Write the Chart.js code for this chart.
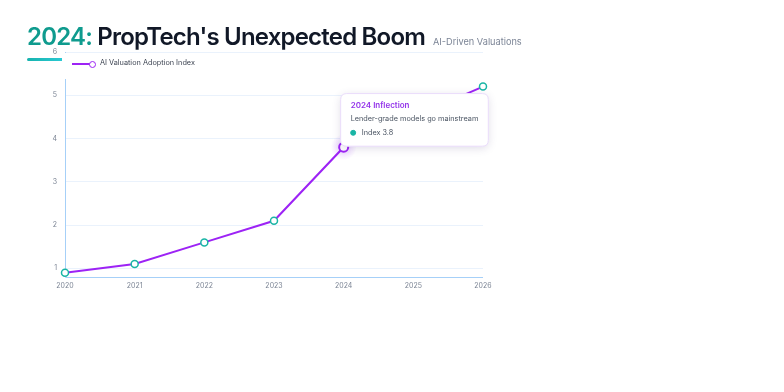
<!DOCTYPE html>
<html>
<head>
<meta charset="utf-8">
<script src="https://cdn.jsdelivr.net/npm/chart.js@4/dist/chart.umd.min.js"></script>
<style>
  html, body { margin: 0; padding: 0; background: #fff; }
  body { width: 784px; height: 392px; position: relative; overflow: hidden; font-family: Inter, "Noto Sans", sans-serif; }
  #chart { position: absolute; left: 0; top: 0; }
  .header { position: absolute; left: 27px; top: 23px; display: flex; align-items: baseline; white-space: nowrap; }
  .header h1 { margin: 0; font-size: 24px; line-height: 1.2; font-weight: 600; color: #111827; letter-spacing: -0.8px; }
  .header h1 span { color: #0f9b8e; }
  .header .sub { margin-left: 8px; font-size: 9.2px; color: #7c8596; }
  .underline { position: absolute; left: 27px; top: 57.5px; width: 38px; height: 3px; border-radius: 2px; background: linear-gradient(90deg, #17b3ae, #2ccbd6); }
  .legend { position: absolute; left: 62px; top: 53px; width: 420px; height: 26px; background: #fff; }
  .legend .mark { position: absolute; left: 10px; top: 6px; width: 24px; height: 10px; }
  .legend .mark::before { content: ""; position: absolute; left: 0; top: 4px; width: 19px; height: 2px; background: #9d23f5; }
  .legend .mark::after { content: ""; position: absolute; left: 17px; top: 1.5px; width: 5px; height: 5px; border: 1.5px solid #9d23f5; border-radius: 50%; background: #fff; }
  .legend .txt { position: absolute; left: 38px; top: 5px; font-size: 7.3px; color: #3f4654; }
</style>
</head>
<body>
<canvas id="chart" width="784" height="392"></canvas>
<div class="header"><h1><span>2024:</span> PropTech's Unexpected Boom</h1><div class="sub">AI-Driven Valuations</div></div>
<div class="underline"></div>
<div class="legend"><div class="mark"></div><div class="txt">AI Valuation Adoption Index</div></div>
<script>
const years = ['2020', '2021', '2022', '2023', '2024', '2025', '2026'];
const adoptionIndex = [0.9, 1.1, 1.6, 2.1, 3.8, 4.5, 5.2];
const yTicks = [1, 2, 3, 4, 5, 6];
const seriesName = 'AI Valuation Adoption Index';
const highlightIndex = 4;
const highlightTitle = '2024 Inflection';
const highlightNote = 'Lender-grade models go mainstream';

const PURPLE = '#9d23f5';
const TEAL = '#19b5a5';
const AXIS = '#a6d0f8';
const GRID = '#eaf2fc';
const TICK = '#7b8494';

Chart.Tooltip.positioners.inflection = function (items) {
  if (!items.length) return false;
  const el = items[0].element;
  return { x: el.x + 3, y: el.y - 1, xAlign: 'left', yAlign: 'bottom' };
};

// axis lines, soft glow behind the highlighted point, shadow under the tooltip box
const extras = {
  id: 'extras',
  beforeDatasetsDraw(chart) {
    const ctx = chart.ctx;
    const { left, right, top, bottom } = chart.chartArea;
    const lx = Math.round(left) + 0.5;
    const by = Math.round(bottom) + 0.5;
    ctx.save();
    ctx.strokeStyle = AXIS;
    ctx.lineWidth = 1;
    ctx.beginPath();
    ctx.moveTo(lx, top);
    ctx.lineTo(lx, by);
    ctx.lineTo(right, by);
    ctx.stroke();
    ctx.restore();

    const pt = chart.getDatasetMeta(0).data[highlightIndex];
    const g = ctx.createRadialGradient(pt.x, pt.y, 2, pt.x, pt.y, 13);
    g.addColorStop(0, 'rgba(168,85,247,0.28)');
    g.addColorStop(1, 'rgba(168,85,247,0)');
    ctx.save();
    ctx.fillStyle = g;
    ctx.beginPath();
    ctx.arc(pt.x, pt.y, 13, 0, Math.PI * 2);
    ctx.fill();
    ctx.restore();
  },
  beforeTooltipDraw(chart, args) {
    const tt = args.tooltip;
    if (!tt.opacity) return;
    const ctx = chart.ctx;
    ctx.save();
    ctx.shadowColor = 'rgba(80,60,120,0.18)';
    ctx.shadowBlur = 8;
    ctx.shadowOffsetY = 2;
    ctx.fillStyle = '#fff';
    ctx.beginPath();
    ctx.roundRect(tt.x, tt.y, tt.width, tt.height, 6);
    ctx.fill();
    ctx.restore();
  }
};

const chart = new Chart(document.getElementById('chart'), {
  type: 'line',
  data: {
    labels: years,
    datasets: [{
      label: seriesName,
      data: adoptionIndex,
      borderColor: PURPLE,
      borderWidth: 2,
      tension: 0,
      pointRadius: 3.5,
      pointBorderWidth: 1.5,
      pointBorderColor: TEAL,
      pointBackgroundColor: '#fff',
      pointHoverRadius: 4.5,
      pointHoverBorderWidth: 2,
      pointHoverBorderColor: PURPLE,
      pointHoverBackgroundColor: '#fff'
    }]
  },
  options: {
    responsive: false,
    animation: false,
    events: [],
    layout: { padding: { left: 45, top: 52, right: 301, bottom: 95 } },
    plugins: {
      legend: { display: false },
      tooltip: {
        position: 'inflection',
        backgroundColor: '#fff',
        borderColor: '#eadcfb',
        borderWidth: 1,
        cornerRadius: 6,
        caretSize: 0,
        caretPadding: 0,
        padding: { top: 7, bottom: 9, left: 10, right: 10 },
        titleColor: '#9333ea',
        titleFont: { family: 'Inter', size: 8, weight: '600' },
        titleMarginBottom: 4,
        bodyColor: '#4b5563',
        bodyFont: { family: 'Inter', size: 7.3 },
        bodySpacing: 5.5,
        usePointStyle: true,
        boxWidth: 5,
        boxHeight: 5,
        boxPadding: 4,
        callbacks: {
          title: () => highlightTitle,
          beforeBody: () => highlightNote,
          label: ctx => 'Index ' + ctx.parsed.y,
          labelColor: () => ({ borderColor: TEAL, backgroundColor: TEAL }),
          labelPointStyle: () => ({ pointStyle: 'circle', rotation: 0 })
        }
      }
    },
    scales: {
      x: {
        offset: false,
        afterFit: s => { s.height = 20; },
        grid: { color: 'transparent', drawOnChartArea: false, drawTicks: false },
        border: { display: false },
        ticks: { color: TICK, padding: 5, font: { family: 'Inter', size: 7 }, maxRotation: 0 }
      },
      y: {
        min: 0.8,
        max: 6,
        afterFit: s => { s.width = 20; },
        afterBuildTicks: s => { s.ticks = yTicks.map(v => ({ value: v })); },
        grid: { color: GRID, drawTicks: false },
        border: { display: false },
        ticks: { color: TICK, padding: 8, font: { family: 'Inter', size: 7 } }
      }
    }
  },
  plugins: [extras]
});

chart.setActiveElements([{ datasetIndex: 0, index: highlightIndex }]);
chart.tooltip.setActiveElements([{ datasetIndex: 0, index: highlightIndex }], { x: 0, y: 0 });
chart.update();
</script>
</body>
</html>
